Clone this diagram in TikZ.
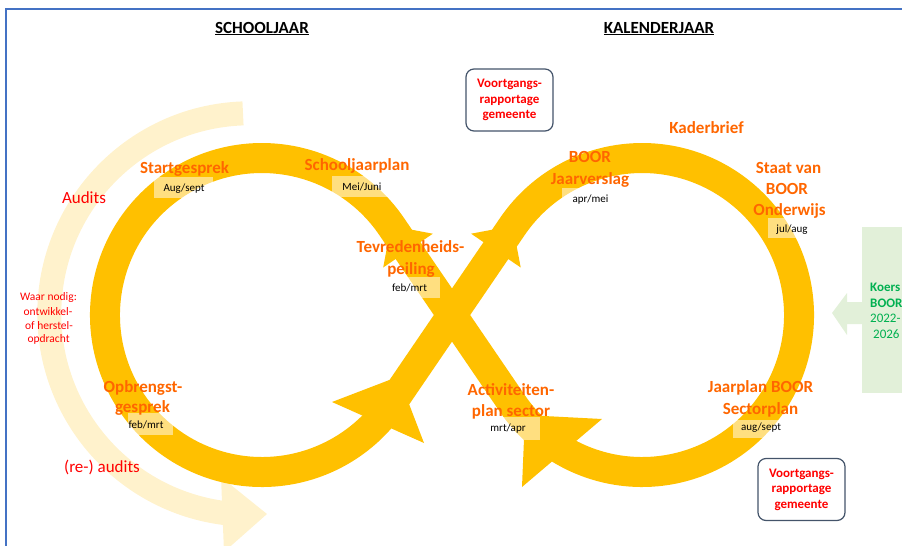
\documentclass[tikz,border=0pt]{standalone}
\usepackage{fontspec}
\setmainfont{Carlito}
\definecolor{ringc}{RGB}{255,192,0}
\definecolor{palec}{RGB}{255,242,204}
\definecolor{orangec}{RGB}{255,102,0}
\definecolor{redc}{RGB}{255,0,0}
\definecolor{greenc}{RGB}{0,176,80}
\definecolor{paleg}{RGB}{226,240,217}
\definecolor{framec}{RGB}{68,114,196}
\definecolor{boxc}{RGB}{68,84,106}
\begin{document}
\begin{tikzpicture}[x=1pt,y=-1pt,
  lab/.style={font=\fontsize{17}{20}\selectfont\bfseries, text=orangec, inner sep=0pt, anchor=base},
  dat/.style={font=\fontsize{11}{13}\selectfont, text=black, inner sep=0pt, anchor=base},
  redbig/.style={font=\fontsize{17}{20}\selectfont, text=redc, inner sep=0pt, anchor=base},
  redsmall/.style={font=\fontsize{11.5}{14}\selectfont, text=redc, inner sep=0pt, anchor=base},
  boxtxt/.style={font=\fontsize{13}{15.5}\selectfont\bfseries, text=redc, align=center},
  greenb/.style={font=\fontsize{13}{15}\selectfont\bfseries, text=greenc, inner sep=0pt, anchor=base west},
  greenr/.style={font=\fontsize{13}{15}\selectfont, text=greenc, inner sep=0pt, anchor=base west},
  titletxt/.style={font=\fontsize{17}{20}\selectfont\bfseries, inner sep=0pt, anchor=base},
  datebox/.style={fill=white, fill opacity=0.5, draw=none},
  ringline/.style={draw=ringc, line width=30pt, line join=round},
  rbox/.style={draw=boxc, line width=1.2pt, rounded corners=8pt, fill=white, minimum width=87pt, minimum height=62pt, inner sep=0pt}
]
\useasboundingbox (0,0) rectangle (902,546);

% frame
\draw[framec, line width=1.5pt] (6,546) -- (6,9) -- (902,9);

% titles
\node[titletxt] (t1) at (262,33) {\underline{SCHOOLJAAR}};
\node[titletxt] (t2) at (659,33) {\underline{KALENDERJAAR}};

% pale audits arrow
\draw[palec, line width=24pt] (243,113.4) arc[start angle=-92, end angle=-263, radius=200.7];
\fill[palec] (221,477) -- (267,514) -- (224,552) -- cycle;

% green Koers box
\fill[paleg] (862,227) rectangle (902,393);
\fill[paleg] (862,302) -- (847,302) -- (847,293) -- (832,313) -- (847,335) -- (847,324) -- (862,324) -- cycle;
\node[greenb] (k1) at (870,291) {Koers};
\node[greenb] (k2) at (870,307) {BOOR};
\node[greenr] (k3) at (870,322) {2022-};
\node[greenr] (k4) at (873,338) {2026};

% infinity ring
\coordinate (P) at (452,315);
\coordinate (T1) at (512.3,226.6);
\coordinate (T3) at (391.7,226.6);
\draw[ringline] (P) -- (T1) arc[start angle=-145.72, end angle=145.72, radius=157] -- (P) -- (T3) arc[start angle=-34.28, end angle=-325.72, radius=157] -- cycle;

% arrow heads
\fill[ringc] (332,402) -- (398.5,376.5) -- (424,443) -- cycle;
\fill[ringc] (432.8,233.7) -- (391,225.8) -- (383.2,267.5) -- cycle;
\fill[ringc] (471.1,233.7) -- (512.8,225.8) -- (520.7,267.5) -- cycle;
\fill[ringc] (602,419) -- (525,415) -- (522,487) -- cycle;

% date boxes
\fill[datebox] (154,177) rectangle (213,198);
\fill[datebox] (332,176) rectangle (388,197);
\fill[datebox] (392,277) rectangle (440,298);
\fill[datebox] (128,413) rectangle (173,435);
\fill[datebox] (562,188) rectangle (620,209);
\fill[datebox] (768,218) rectangle (814,238);
\fill[datebox] (733,420) rectangle (790,438);
\fill[datebox] (480,417) rectangle (540,440);

% left loop labels
\node[lab] (sg) at (184.5,173) {Startgesprek};
\node[dat] (sgd) at (184,191.5) {Aug/sept};
\node[lab] (sj) at (357,170) {Schooljaarplan};
\node[dat] (sjd) at (362,190.5) {Mei/Juni};
\node[lab] (tv1) at (410.5,252) {Tevredenheids-};
\node[lab] (tv2) at (411,274) {peiling};
\node[dat] (tvd) at (409.5,291.5) {feb/mrt};
\node[lab] (op1) at (143,392) {Opbrengst-};
\node[lab] (op2) at (142.5,412) {gesprek};
\node[dat] (opd) at (146,428) {feb/mrt};

% right loop labels
\node[lab] (bj1) at (590,162) {BOOR};
\node[lab] (bj2) at (590,184) {Jaarverslag};
\node[dat] (bjd) at (590.5,202.5) {apr/mei};
\node[lab] (kb) at (706.5,133) {Kaderbrief};
\node[lab] (sv1) at (788.5,173) {Staat van};
\node[lab] (sv2) at (787,194) {BOOR};
\node[lab] (sv3) at (789.5,215) {Onderwijs};
\node[dat] (svd) at (792,232.5) {jul/aug};
\node[lab] (jp1) at (760.5,392) {Jaarplan BOOR};
\node[lab] (jp2) at (760.5,414) {Sectorplan};
\node[dat] (jpd) at (761,430.5) {aug/sept};
\node[lab] (ac1) at (511,395) {Activiteiten-};
\node[lab] (ac2) at (511,416) {plan sector};
\node[dat] (acd) at (508,431.5) {mrt/apr};

% red texts
\node[redbig] (au) at (84,203) {Audits};
\node[redsmall] (wn1) at (48.5,300.5) {Waar nodig:};
\node[redsmall] (wn2) at (48,315.5) {ontwikkel-};
\node[redsmall] (wn3) at (49,329.5) {of herstel-};
\node[redsmall] (wn4) at (48.6,342.5) {opdracht};
\node[redbig] (rau) at (102,472) {(re-) audits};

% Voortgangsrapportage boxes
\node[rbox, boxtxt] (vr1) at (509.5,100) {Voortgangs-\\rapportage\\gemeente};
\node[rbox, boxtxt] (vr2) at (801.5,489.5) {Voortgangs-\\rapportage\\gemeente};
\end{tikzpicture}
\end{document}
